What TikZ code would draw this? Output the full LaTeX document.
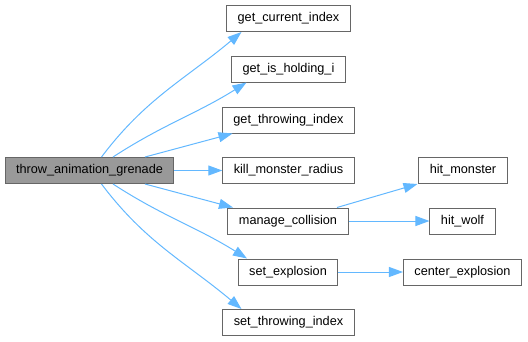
\documentclass[tikz,border=0pt]{standalone}
\usepackage{fontspec}
\setmainfont{Liberation Sans}
\usetikzlibrary{arrows.meta}
\definecolor{callblue}{RGB}{99,184,255}
\definecolor{fnborder}{RGB}{102,102,102}
\definecolor{fnroot}{RGB}{153,153,153}
\tikzset{
    fnbox/.style={rectangle, draw=fnborder, fill=#1, line width=1pt, minimum height=26pt, inner xsep=11pt, inner ysep=0pt, font=\fontsize{12.7}{15}\selectfont},
    fnbox/.default=white,
    callarrow/.style={-{Triangle[length=14pt,width=10pt]}, color=callblue, line width=1pt}
}

\begin{document}
\begin{tikzpicture}[x=1pt, y=1pt]
\useasboundingbox (0,0) rectangle (528,-341);

% caller on the left
\node[fnbox=fnroot] (throw) at (89.5,-170.5) {throw\_animation\_grenade};

% direct callees
\node[fnbox] (gci) at (288.5,-18.5) {get\_current\_index};
\node[fnbox] (gih) at (288.5,-69) {get\_is\_holding\_i};
\node[fnbox] (gti) at (288.5,-120) {get\_throwing\_index};
\node[fnbox] (kmr) at (288.5,-170.5) {kill\_monster\_radius};
\node[fnbox] (mc) at (288,-221) {manage\_collision};
\node[fnbox] (se) at (288,-272) {set\_explosion};
\node[fnbox] (sti) at (288.5,-322.5) {set\_throwing\_index};

% second level
\node[fnbox] (hm) at (463,-170.5) {hit\_monster};
\node[fnbox] (hw) at (462.5,-221) {hit\_wolf};
\node[fnbox] (ce) at (462.5,-272) {center\_explosion};

\draw[callarrow] ([xshift=12pt]throw.north) to[out=53, in=220] ([xshift=-47pt]gci.south);
\draw[callarrow] ([xshift=23.5pt]throw.north) to[out=33, in=212] ([xshift=-42pt]gih.south);
\draw[callarrow] ([xshift=55.5pt]throw.north) -- ([xshift=-56pt]gti.south);
\draw[callarrow] (throw) -- (kmr);
\draw[callarrow] ([xshift=55.5pt]throw.south) -- ([xshift=-55pt]mc.north);
\draw[callarrow] ([xshift=23.5pt]throw.south) to[out=-33, in=148] ([xshift=-41pt]se.north);
\draw[callarrow] ([xshift=12pt]throw.south) to[out=-53, in=140] ([xshift=-47pt]sti.north);

\draw[callarrow] ([xshift=49pt]mc.north) -- ([xshift=-45.5pt]hm.south);
\draw[callarrow] (mc) -- (hw);
\draw[callarrow] (se) -- (ce);

\end{tikzpicture}
\end{document}
